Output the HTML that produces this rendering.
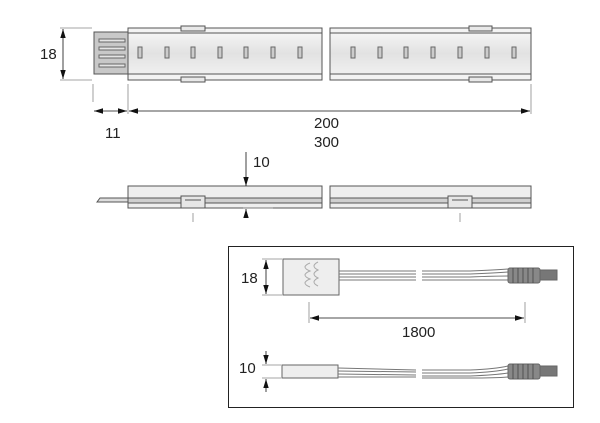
<!DOCTYPE html>
<html><head><meta charset="utf-8"><style>
html,body{margin:0;padding:0;background:#fff;}
svg{display:block;}
text{font-family:"Liberation Sans",sans-serif;font-size:15px;fill:#222;}
</style></head><body>
<svg width="600" height="423" viewBox="0 0 600 423" xmlns="http://www.w3.org/2000/svg">
<defs>
<linearGradient id="g1" x1="0" y1="0" x2="0" y2="1"><stop offset="0" stop-color="#f4f4f4"/><stop offset="0.5" stop-color="#e2e2e2"/><stop offset="1" stop-color="#f0f0f0"/></linearGradient>
<marker id="a" viewBox="0 0 10 10" refX="10" refY="5" markerUnits="userSpaceOnUse" markerWidth="9" markerHeight="9" orient="auto-start-reverse"><path d="M0,2 L10,5 L0,8z" fill="#111"/></marker>
</defs>
<g stroke="#555" stroke-width="1" fill="none">
<rect x="94" y="32" width="34" height="42" fill="#c8c8c8"/>
<g stroke="#666" fill="#e4e4e4"><rect x="99" y="39" width="26" height="3"/><rect x="99" y="47" width="26" height="3"/><rect x="99" y="55" width="26" height="3"/><rect x="99" y="64" width="26" height="3"/></g>
<rect x="128" y="28" width="194" height="52" fill="#f3f3f3"/>
<rect x="128" y="33" width="194" height="41" fill="url(#g1)"/>
<rect x="330" y="28" width="201" height="52" fill="#f3f3f3"/>
<rect x="330" y="33" width="201" height="41" fill="url(#g1)"/>
<g fill="#e8e8e8"><rect x="181" y="26" width="24" height="5"/><rect x="181" y="77" width="24" height="5"/><rect x="469" y="26" width="23" height="5"/><rect x="469" y="77" width="23" height="5"/></g>
<g fill="#ccc" stroke="#666">
<rect x="138" y="47" width="4" height="11"/><rect x="165" y="47" width="4" height="11"/><rect x="191" y="47" width="4" height="11"/><rect x="218" y="47" width="4" height="11"/><rect x="244" y="47" width="4" height="11"/><rect x="271" y="47" width="4" height="11"/><rect x="298" y="47" width="4" height="11"/>
<rect x="351" y="47" width="4" height="11"/><rect x="378" y="47" width="4" height="11"/><rect x="404" y="47" width="4" height="11"/><rect x="431" y="47" width="4" height="11"/><rect x="458" y="47" width="4" height="11"/><rect x="485" y="47" width="4" height="11"/><rect x="512" y="47" width="4" height="11"/>
</g>
</g>
<g stroke="#888" stroke-width="0.8">
<line x1="60" y1="28" x2="92" y2="28"/><line x1="60" y1="80" x2="92" y2="80"/>
<line x1="93" y1="84" x2="93" y2="102"/><line x1="128" y1="84" x2="128" y2="114"/><line x1="531" y1="84" x2="531" y2="114"/>
</g>
<g stroke="#111" stroke-width="0.8">
<line x1="63" y1="29" x2="63" y2="79" marker-start="url(#a)" marker-end="url(#a)"/>
<line x1="94" y1="111" x2="127" y2="111" marker-start="url(#a)" marker-end="url(#a)"/>
<line x1="129" y1="111" x2="530" y2="111" marker-start="url(#a)" marker-end="url(#a)"/>
</g>
<text x="40" y="59">18</text>
<text x="105" y="138">11</text>
<text x="314" y="128">200</text>
<text x="314" y="147">300</text>
<g stroke="#555" stroke-width="1">
<path d="M97,202 L100,198 L128,198 L128,202 Z" fill="#ddd"/>
<rect x="128" y="186" width="194" height="22" fill="#eee"/>
<rect x="330" y="186" width="201" height="22" fill="#eee"/>
<rect x="128" y="198" width="194" height="5" fill="#cfcfcf"/>
<rect x="330" y="198" width="201" height="5" fill="#cfcfcf"/>
<rect x="181" y="196" width="24" height="12" fill="#e6e6e6"/>
<line x1="185" y1="200" x2="201" y2="200"/>
<rect x="448" y="196" width="24" height="12" fill="#e6e6e6"/>
<line x1="452" y1="200" x2="468" y2="200"/>
</g>
<g stroke="#888" stroke-width="0.8"><line x1="193" y1="213" x2="193" y2="222"/><line x1="460" y1="213" x2="460" y2="222"/><line x1="243" y1="208" x2="273" y2="208"/></g>
<g stroke="#111" stroke-width="0.8">
<line x1="246" y1="152" x2="246" y2="186" marker-end="url(#a)"/>
<line x1="246" y1="217" x2="246" y2="209" marker-end="url(#a)"/>
</g>
<text x="253" y="167">10</text>
<rect x="228.5" y="246.5" width="345" height="161" fill="none" stroke="#222" stroke-width="1"/>
<g stroke="#666" stroke-width="1">
<rect x="283" y="259" width="56" height="36" fill="#eee"/>
<path d="M310,263 q-10,4 0,8 q-10,4 0,8 q-10,4 0,8" fill="none" stroke="#aaa"/>
<path d="M318,262 q-8,4 0,8 q-8,4 0,8 q-8,4 0,8" fill="none" stroke="#aaa"/>
<g fill="none" stroke="#777"><line x1="339" y1="271" x2="416" y2="271"/><line x1="339" y1="274" x2="416" y2="274"/><line x1="339" y1="277" x2="416" y2="277"/><line x1="339" y1="280" x2="416" y2="280"/>
<path d="M422,271 L470,271 Q495,270 508,269"/><path d="M422,274 L470,274 Q495,273 508,272"/><path d="M422,277 L470,277 Q495,276 508,276"/><path d="M422,280 L470,280 Q495,280 508,280"/></g>
<rect x="508" y="268" width="32" height="15" fill="#888" rx="2"/>
<rect x="540" y="270" width="17" height="10" fill="#777"/>
<rect x="282" y="365" width="56" height="13" fill="#eee"/>
<g fill="none" stroke="#777"><line x1="338" y1="368" x2="416" y2="370"/><line x1="338" y1="371" x2="416" y2="372"/><line x1="338" y1="374" x2="416" y2="375"/><line x1="338" y1="377" x2="416" y2="377"/>
<path d="M422,370 L470,370 Q495,369 508,366"/><path d="M422,373 L470,373 Q495,372 508,369"/><path d="M422,376 L470,376 Q495,375 508,373"/><path d="M422,378 L470,378 Q495,378 508,377"/></g>
<rect x="508" y="364" width="32" height="15" fill="#888" rx="2"/>
<rect x="540" y="366" width="17" height="10" fill="#777"/>
</g>
<g stroke="#444" stroke-width="0.8"><line x1="513" y1="268" x2="513" y2="283"/><line x1="518" y1="268" x2="518" y2="283"/><line x1="523" y1="268" x2="523" y2="283"/><line x1="528" y1="268" x2="528" y2="283"/><line x1="533" y1="268" x2="533" y2="283"/>
<line x1="513" y1="364" x2="513" y2="379"/><line x1="518" y1="364" x2="518" y2="379"/><line x1="523" y1="364" x2="523" y2="379"/><line x1="528" y1="364" x2="528" y2="379"/><line x1="533" y1="364" x2="533" y2="379"/></g>
<g stroke="#888" stroke-width="0.8">
<line x1="262" y1="259" x2="282" y2="259"/><line x1="262" y1="295" x2="282" y2="295"/>
<line x1="309" y1="302" x2="309" y2="323"/><line x1="525" y1="302" x2="525" y2="323"/>
<line x1="262" y1="365" x2="281" y2="365"/><line x1="262" y1="378" x2="281" y2="378"/>
</g>
<g stroke="#111" stroke-width="0.8">
<line x1="266" y1="260" x2="266" y2="294" marker-start="url(#a)" marker-end="url(#a)"/>
<line x1="310" y1="318" x2="524" y2="318" marker-start="url(#a)" marker-end="url(#a)"/>
<line x1="266" y1="351" x2="266" y2="364" marker-end="url(#a)"/>
<line x1="266" y1="392" x2="266" y2="379" marker-end="url(#a)"/>
</g>
<text x="241" y="283">18</text>
<text x="402" y="337">1800</text>
<text x="239" y="373">10</text>
</svg>
</body></html>
